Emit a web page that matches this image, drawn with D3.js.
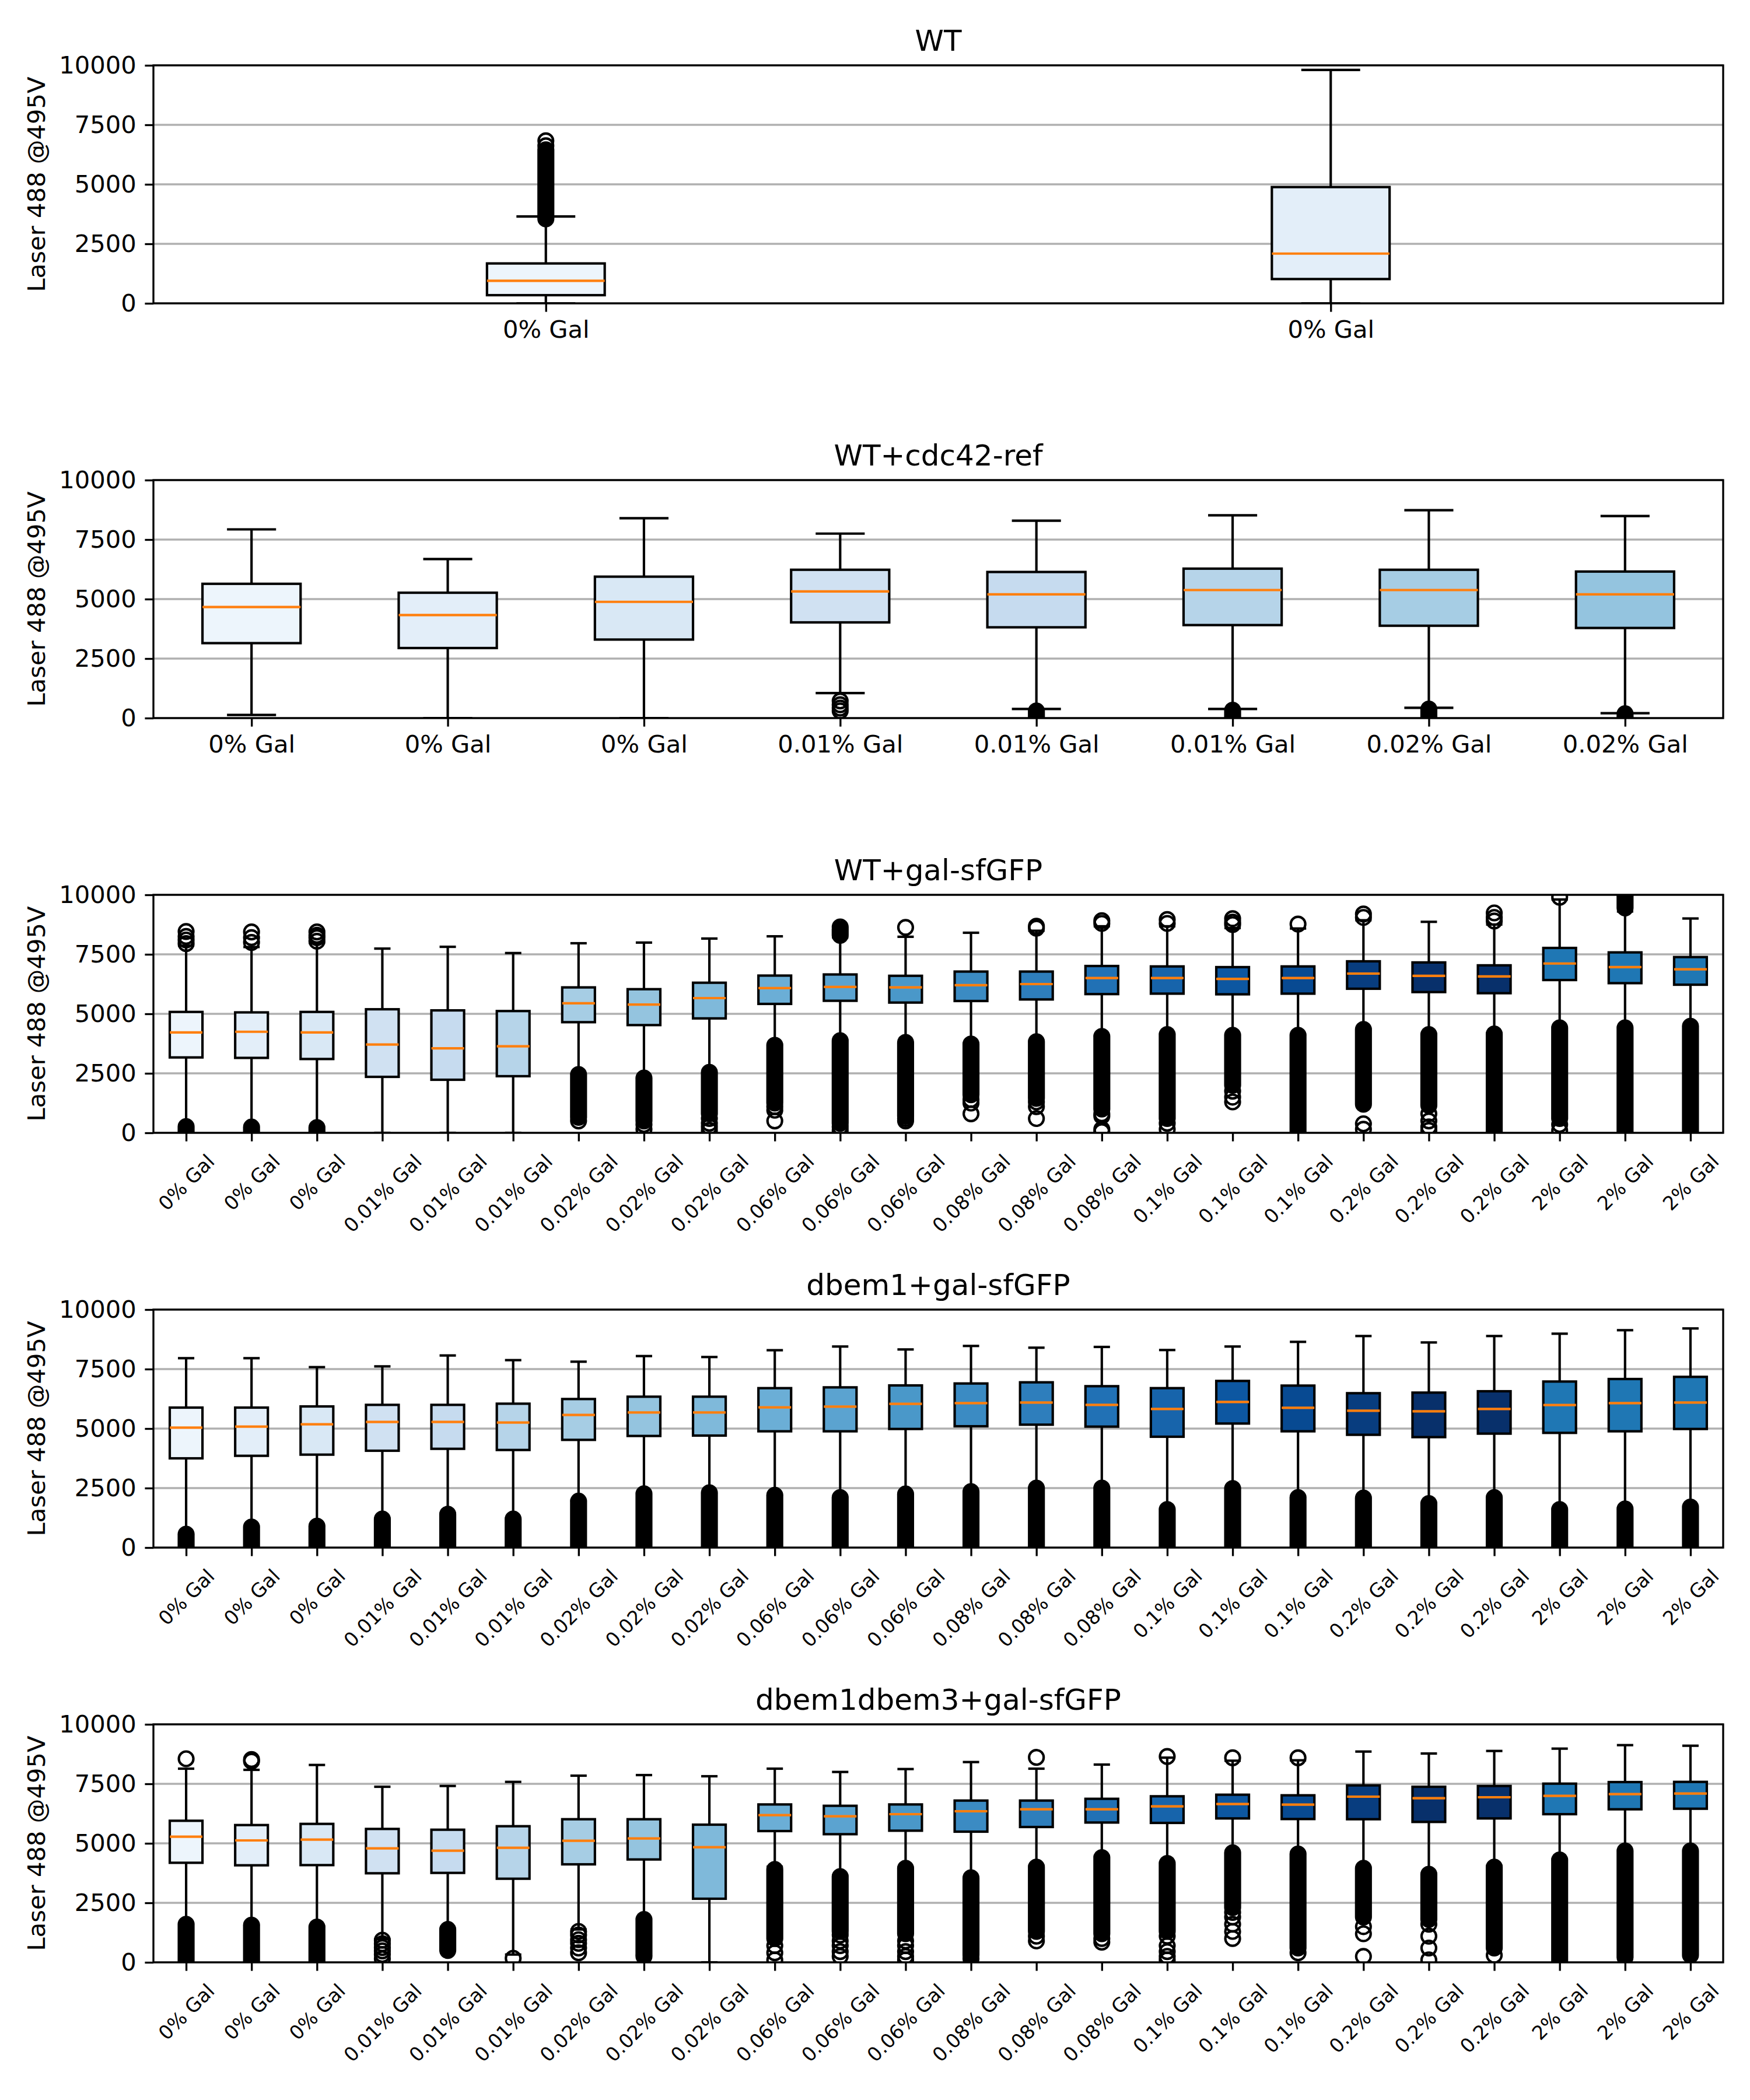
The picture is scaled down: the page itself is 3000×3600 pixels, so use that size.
<!DOCTYPE html>
<html>
<head>
<meta charset="utf-8">
<script src="https://cdn.jsdelivr.net/npm/d3@7"></script>
<style>
body { margin: 0; background: #fff; }
text { font-family: "DejaVu Sans", sans-serif; }
</style>
</head>
<body>
<div id="chart"></div>
<script>
// ---- data: box stats are [lowWhisker, q1, median, q3, highWhisker] ----
var yTicks = [0, 2500, 5000, 7500, 10000];
var yLabel = 'Laser 488 @495V';
var titles = ['WT', 'WT+cdc42-ref', 'WT+gal-sfGFP', 'dbem1+gal-sfGFP', 'dbem1dbem3+gal-sfGFP'];

var wtLabels = ['0% Gal', '0% Gal'];
var wtBoxes = [[0, 343, 946, 1676, 3647], [0, 1020, 2090, 4885, 9809]];
var wtBands = [[[3550, 6450]], []];
var wtFliers = [[6620, 6830], []];

var cdcLabels = ['0% Gal', '0% Gal', '0% Gal', '0.01% Gal', '0.01% Gal', '0.01% Gal', '0.02% Gal', '0.02% Gal'];
var cdcBoxes = [
    [131, 3149, 4667, 5642, 7929],
    [0, 2943, 4330, 5267, 6682],
    [0, 3299, 4883, 5942, 8397],
    [1050, 4021, 5323, 6232, 7751],
    [384, 3814, 5201, 6139, 8294],
    [384, 3908, 5380, 6279, 8519],
    [431, 3880, 5380, 6232, 8735],
    [206, 3786, 5201, 6157, 8491]
];
var cdcBands = [[], [], [], [], [[0, 300]], [[0, 330]], [[0, 380]], [[0, 180]]];
var cdcFliers = [[], [], [], [720, 560, 420, 300], [], [], [], []];

// tick labels shared by the three 24-box panels
var galLabels = ['0% Gal', '0% Gal', '0% Gal', '0.01% Gal', '0.01% Gal', '0.01% Gal',
    '0.02% Gal', '0.02% Gal', '0.02% Gal', '0.06% Gal', '0.06% Gal', '0.06% Gal',
    '0.08% Gal', '0.08% Gal', '0.08% Gal', '0.1% Gal', '0.1% Gal', '0.1% Gal',
    '0.2% Gal', '0.2% Gal', '0.2% Gal', '2% Gal', '2% Gal', '2% Gal'];

var wtGalBoxes = [
    [300, 3168, 4217, 5080, 7863], [280, 3149, 4246, 5061, 7807], [250, 3102, 4217, 5080, 7976],
    [0, 2352, 3711, 5192, 7741], [0, 2230, 3552, 5145, 7816], [0, 2380, 3636, 5117, 7554],
    [2480, 4649, 5445, 6111, 7966], [2330, 4527, 5389, 6036, 7994], [2570, 4808, 5661, 6307, 8163],
    [3710, 5417, 6082, 6607, 8257], [3900, 5548, 6129, 6654, 8210], [3824, 5473, 6111, 6598, 8238],
    [3758, 5539, 6204, 6776, 8407], [3852, 5604, 6251, 6776, 8491], [4086, 5829, 6504, 7010, 8679],
    [4161, 5848, 6504, 6992, 8679], [4133, 5820, 6467, 6963, 8603], [4133, 5848, 6504, 6992, 8585],
    [4367, 6054, 6692, 7207, 8932], [4161, 5914, 6598, 7160, 8866], [4180, 5867, 6570, 7038, 8753],
    [4442, 6420, 7113, 7769, 9803], [4442, 6289, 6963, 7582, 9300], [4508, 6223, 6870, 7385, 9006]
];
// dense runs of outliers, as [low, high]
var wtGalBands = [
    [[0, 260]], [[0, 240]], [[0, 220]], [], [], [],
    [[650, 2450]], [[500, 2300]], [[800, 2540]],
    [[1250, 3680]], [[400, 3870], [8300, 8550]], [[700, 3800]],
    [[1600, 3730]], [[1450, 3830]], [[1000, 4050]],
    [[600, 4130]], [[2000, 4100]], [[0, 4100]],
    [[1200, 4340]], [[1150, 4130]], [[0, 4150]],
    [[600, 4410]], [[0, 4410], [9450, 9950]], [[0, 4480]]
];
var wtGalFliers = [
    [7950, 8100, 8250, 8460], [8000, 8200, 8440], [8050, 8200, 8300, 8440], [], [], [],
    [500], [350, 150], [600, 400, 250, 100],
    [1100, 950, 500], [250, 100, 8650], [600, 500, 8632],
    [1400, 1250, 800], [1300, 1100, 600, 8600, 8680], [800, 700, 150, 50, 8800, 8913],
    [400, 150, 8800, 8960], [1750, 1500, 1300, 8750, 8850, 9000], [8772],
    [380, 150, 9050, 9194], [800, 500, 250, 100], [8900, 9050, 9241],
    [350, 100, 9900], [], []
];

var dbem1Boxes = [
    [572, 3750, 5041, 5882, 7958], [882, 3856, 5082, 5882, 7958], [915, 3905, 5180, 5931, 7582],
    [1226, 4069, 5278, 5997, 7614], [1430, 4150, 5278, 5997, 8072], [1226, 4101, 5253, 6046, 7876],
    [1977, 4526, 5572, 6242, 7811], [2288, 4690, 5678, 6340, 8047], [2328, 4706, 5678, 6340, 8007],
    [2222, 4886, 5891, 6699, 8293], [2124, 4886, 5923, 6732, 8448], [2271, 4984, 6038, 6814, 8325],
    [2369, 5098, 6070, 6895, 8472], [2533, 5164, 6095, 6944, 8399], [2533, 5082, 5997, 6781, 8431],
    [1634, 4657, 5825, 6699, 8301], [2516, 5212, 6119, 7002, 8448], [2149, 4886, 5874, 6806, 8644],
    [2100, 4739, 5752, 6487, 8889], [1879, 4641, 5727, 6512, 8619], [2141, 4788, 5825, 6569, 8889],
    [1634, 4820, 5989, 6977, 8987], [1650, 4886, 6070, 7083, 9134], [1716, 4984, 6095, 7173, 9208]
];
var dbem1Bands = [
    [[0, 560]], [[0, 860]], [[0, 900]], [[0, 1200]], [[0, 1400]], [[0, 1200]],
    [[0, 1950]], [[0, 2260]], [[0, 2300]], [[0, 2200]], [[0, 2100]], [[0, 2250]],
    [[0, 2350]], [[0, 2500]], [[0, 2500]], [[0, 1600]], [[0, 2480]], [[0, 2100]],
    [[0, 2080]], [[0, 1850]], [[0, 2100]], [[0, 1600]], [[0, 1620]], [[0, 1700]]
];
var dbem1Fliers = [[], [], [], [], [], [], [], [], [], [], [], [],
    [], [], [], [], [], [], [], [], [], [], [], []];

var dbem13Boxes = [
    [1626, 4183, 5278, 5948, 8137], [1585, 4077, 5122, 5768, 8088], [1503, 4085, 5155, 5817, 8293],
    [980, 3742, 4788, 5605, 7377], [1405, 3758, 4690, 5572, 7410], [327, 3513, 4812, 5719, 7582],
    [1381, 4118, 5106, 6013, 7843], [1830, 4322, 5204, 6013, 7868], [0, 2672, 4837, 5784, 7819],
    [4020, 5515, 6185, 6634, 8137], [3652, 5384, 6136, 6577, 7999], [3979, 5531, 6225, 6634, 8121],
    [3570, 5490, 6348, 6797, 8415], [4061, 5686, 6430, 6797, 8137], [4469, 5874, 6430, 6871, 8309],
    [4199, 5858, 6552, 6977, 8600], [4632, 6046, 6650, 7043, 8472], [4591, 6021, 6626, 7018, 8489],
    [3979, 6013, 6961, 7435, 8856], [3734, 5899, 6895, 7377, 8774], [4061, 6046, 6936, 7410, 8881],
    [4346, 6225, 6994, 7508, 8979], [4714, 6430, 7067, 7574, 9126], [4714, 6454, 7092, 7582, 9101]
];
var dbem13Bands = [
    [[0, 1600]], [[0, 1560]], [[0, 1480]], [], [[500, 1380]], [],
    [], [[350, 1800]], [],
    [[1000, 3900]], [[1300, 3600]], [[1200, 3950]],
    [[300, 3550]], [[1300, 4000]], [[1200, 4400]],
    [[1300, 4150]], [[2300, 4600]], [[600, 4550]],
    [[1900, 3950]], [[1800, 3700]], [[600, 4000]],
    [[0, 4300]], [[200, 4680]], [[300, 4680]]
];
var dbem13Fliers = [
    [8554], [8450, 8520], [], [930, 780, 620, 480, 330, 150], [], [170],
    [1300, 1150, 950, 800, 600, 400], [250], [],
    [700, 400, 100], [1150, 900, 700, 450, 250], [900, 700, 450, 250, 100],
    [150], [1100, 900, 8611], [1000, 850],
    [1100, 700, 450, 250, 100, 8650], [2100, 1900, 1600, 1300, 1000, 8595], [400, 8595],
    [1500, 1200, 250], [1600, 1100, 600, 100], [300],
    [], [], []
];

// ---- layout (matplotlib figure 10x12 in at 300 dpi) ----
var width = 3000, height = 3600;
var pt = 300 / 72;
var left = 263, right = 2954, plotH = 408;
var tops = [112, 823, 1534, 2245, 2956];
var tickLen = 3.5 * pt, tickPad = 3.5 * pt;
var lw = 1 * pt, thin = 0.8 * pt;
var flierR = 3 * pt;

// Blues colormap (piecewise linear, like matplotlib); boxes past the 21st keep default C0
var bluesStops = ['#f7fbff', '#deebf7', '#c6dbef', '#9ecae1', '#6baed6', '#4292c6', '#2171b5', '#08519c', '#08306b'];
var blues = d3.scaleLinear().domain(d3.range(9).map(function(i) { return i / 8; }))
    .range(bluesStops).interpolate(d3.interpolateRgb).clamp(true);
function boxColor(i) {
    return i < 21 ? blues(0.05 * (i + 1)) : '#1f77b4';
}

var panels = [
    {labels: wtLabels, boxes: wtBoxes, bands: wtBands, fliers: wtFliers, rotate: false},
    {labels: cdcLabels, boxes: cdcBoxes, bands: cdcBands, fliers: cdcFliers, rotate: false},
    {labels: galLabels, boxes: wtGalBoxes, bands: wtGalBands, fliers: wtGalFliers, rotate: true},
    {labels: galLabels, boxes: dbem1Boxes, bands: dbem1Bands, fliers: dbem1Fliers, rotate: true},
    {labels: galLabels, boxes: dbem13Boxes, bands: dbem13Bands, fliers: dbem13Fliers, rotate: true}
];

var svg = d3.select('#chart').append('svg')
    .attr('width', width)
    .attr('height', height);

svg.append('rect').attr('width', width).attr('height', height).attr('fill', '#fff');

panels.forEach(function(p, k) {
    drawPanel(p, titles[k], tops[k], k);
});

function drawPanel(p, title, top, k) {
    var n = p.labels.length;
    var plotW = right - left;
    var x = d3.scaleLinear().domain([0.5, n + 0.5]).range([0, plotW]);
    var y = d3.scaleLinear().domain([0, 10000]).range([plotH, 0]);

    // matplotlib default box width: 0.15 * spread, clipped to [0.15, 0.5]
    var wData = Math.min(Math.max(0.15 * Math.max(n - 1, 1), 0.15), 0.5);
    var bw = x(1 + wData) - x(1);

    var g = svg.append('g').attr('transform', 'translate(' + left + ',' + top + ')');

    g.append('clipPath').attr('id', 'clip' + k)
        .append('rect').attr('width', plotW).attr('height', plotH);

    // grid (below everything)
    g.append('g').selectAll('line').data(yTicks).enter().append('line')
        .attr('x1', 0).attr('x2', plotW)
        .attr('y1', function(d) { return y(d); })
        .attr('y2', function(d) { return y(d); })
        .attr('stroke', '#b0b0b0')
        .attr('stroke-width', thin);

    var plot = g.append('g').attr('clip-path', 'url(#clip' + k + ')');

    var items = plot.selectAll('g.item').data(p.boxes).enter().append('g')
        .attr('class', 'item')
        .attr('transform', function(d, i) { return 'translate(' + x(i + 1) + ',0)'; });

    // whiskers
    items.append('line')
        .attr('x1', 0).attr('x2', 0)
        .attr('y1', function(d) { return y(d[0]); })
        .attr('y2', function(d) { return y(d[1]); })
        .attr('stroke', '#000').attr('stroke-width', lw);
    items.append('line')
        .attr('x1', 0).attr('x2', 0)
        .attr('y1', function(d) { return y(d[3]); })
        .attr('y2', function(d) { return y(d[4]); })
        .attr('stroke', '#000').attr('stroke-width', lw);

    // caps
    [0, 4].forEach(function(j) {
        items.append('line')
            .attr('x1', -bw / 4).attr('x2', bw / 4)
            .attr('y1', function(d) { return y(d[j]); })
            .attr('y2', function(d) { return y(d[j]); })
            .attr('stroke', '#000').attr('stroke-width', lw);
    });

    // boxes
    items.append('rect')
        .attr('x', -bw / 2)
        .attr('width', bw)
        .attr('y', function(d) { return y(d[3]); })
        .attr('height', function(d) { return y(d[1]) - y(d[3]); })
        .attr('fill', function(d, i) { return boxColor(i); })
        .attr('stroke', '#000').attr('stroke-width', lw);

    // medians
    items.append('line')
        .attr('x1', -bw / 2).attr('x2', bw / 2)
        .attr('y1', function(d) { return y(d[2]); })
        .attr('y2', function(d) { return y(d[2]); })
        .attr('stroke', '#ff7f0e').attr('stroke-width', lw);

    // dense outlier runs: overlapping circles read as a solid capsule
    items.each(function(d, i) {
        var it = d3.select(this);
        p.bands[i].forEach(function(b) {
            var r = flierR + lw / 2;
            it.append('rect')
                .attr('x', -r).attr('width', 2 * r)
                .attr('y', y(b[1]) - r)
                .attr('height', y(b[0]) - y(b[1]) + 2 * r)
                .attr('rx', r).attr('ry', r)
                .attr('fill', '#000');
        });
        it.selectAll('circle.flier').data(p.fliers[i]).enter().append('circle')
            .attr('class', 'flier')
            .attr('cx', 0)
            .attr('cy', function(v) { return y(v); })
            .attr('r', flierR)
            .attr('fill', 'none')
            .attr('stroke', '#000')
            .attr('stroke-width', lw);
    });

    // y axis
    var ya = g.append('g').call(d3.axisLeft(y).tickValues(yTicks)
        .tickFormat(d3.format('d'))
        .tickSize(tickLen).tickPadding(tickPad));
    ya.select('.domain').remove();
    ya.selectAll('.tick line').attr('stroke-width', thin);
    ya.attr('font-size', 10 * pt).attr('font-family', '"DejaVu Sans", sans-serif');

    // x axis
    var xa = g.append('g').attr('transform', 'translate(0,' + plotH + ')')
        .call(d3.axisBottom(x).tickValues(d3.range(1, n + 1))
            .tickFormat(function(d) { return p.labels[d - 1]; })
            .tickSize(tickLen).tickPadding(tickPad));
    xa.select('.domain').remove();
    xa.selectAll('.tick line').attr('stroke-width', thin);
    xa.attr('font-family', '"DejaVu Sans", sans-serif');

    if (p.rotate) {
        var fs = 8 * pt;
        xa.attr('font-size', fs);
        xa.selectAll('.tick text').each(function() {
            var L = this.getComputedTextLength();
            var h = (L + fs * 1.17) * Math.SQRT1_2;
            d3.select(this)
                .attr('y', null)
                .attr('dy', '0.35em')
                .attr('text-anchor', 'middle')
                .attr('transform', 'translate(0,' + (tickLen + tickPad + h / 2) + ') rotate(-45)');
        });
    } else {
        xa.attr('font-size', 10 * pt);
    }

    // spines
    g.append('rect')
        .attr('width', plotW).attr('height', plotH)
        .attr('fill', 'none')
        .attr('stroke', '#000')
        .attr('stroke-width', thin);

    // title
    g.append('text')
        .attr('x', plotW / 2)
        .attr('y', -6 * pt)
        .attr('text-anchor', 'middle')
        .attr('font-size', 12 * pt)
        .text(title);

    // y label
    g.append('text')
        .attr('transform', 'translate(' + (76.5 - left) + ',' + (plotH / 2) + ') rotate(-90)')
        .attr('text-anchor', 'middle')
        .attr('font-size', 10 * pt)
        .text(yLabel);
}
</script>
</body>
</html>
